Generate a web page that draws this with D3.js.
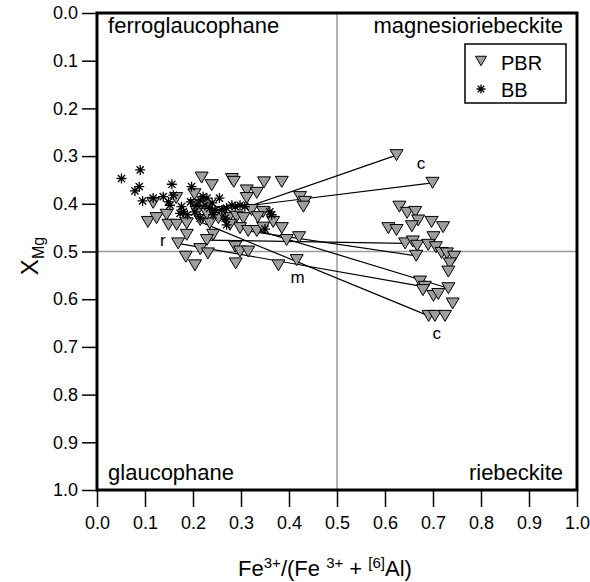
<!DOCTYPE html>
<html>
<head>
<meta charset="utf-8">
<script src="https://cdn.jsdelivr.net/npm/d3@7"></script>
<style>
  html, body { margin: 0; padding: 0; background: #fff; }
  svg { display: block; }
  text { font-family: "Liberation Sans", Arial, Helvetica, sans-serif; fill: #000; }
</style>
</head>
<body>
<svg id="chart" width="590" height="582"></svg>
<script>
// ---------- data ----------
const tickValues = [0, 0.1, 0.2, 0.3, 0.4, 0.5, 0.6, 0.7, 0.8, 0.9, 1.0];

// PBR (grey down-triangles): Fe3+/(Fe3+ + [6]Al) and XMg
const pbrX = [0.218,0.239,0.281,0.285,0.348,0.385,0.312,0.333,0.117,0.165,0.203,0.204,0.106,0.124,0.145,0.149,0.166,0.187,0.187,0.215,0.235,0.253,0.274,0.291,0.305,0.322,0.312,0.346,0.367,0.385,0.298,0.315,0.333,0.346,0.242,0.229,0.169,0.215,0.231,0.185,0.204,0.288,0.298,0.315,0.289,0.378,0.416,0.395,0.421,0.423,0.433,0.430,0.208,0.229,0.260,0.277,0.335,
  0.630,0.646,0.663,0.669,0.656,0.697,0.721,0.607,0.624,0.701,0.642,0.658,0.667,0.690,0.706,0.718,0.729,0.744,0.735,0.732,0.665,0.673,0.683,0.679,0.732,0.701,0.711,0.741,0.691,0.704,0.725,0.624,0.699];
const pbrY = [0.345,0.361,0.348,0.354,0.355,0.354,0.372,0.377,0.398,0.388,0.380,0.403,0.438,0.430,0.423,0.444,0.444,0.441,0.465,0.434,0.441,0.430,0.430,0.427,0.430,0.413,0.388,0.417,0.438,0.451,0.451,0.457,0.457,0.450,0.465,0.476,0.483,0.495,0.504,0.511,0.529,0.490,0.500,0.500,0.525,0.529,0.518,0.476,0.470,0.386,0.396,0.406,0.417,0.421,0.417,0.444,0.428,
  0.406,0.419,0.417,0.435,0.447,0.438,0.449,0.451,0.455,0.470,0.483,0.479,0.488,0.486,0.491,0.503,0.504,0.511,0.525,0.542,0.509,0.563,0.574,0.581,0.577,0.593,0.589,0.609,0.635,0.635,0.635,0.298,0.356];

// BB (asterisks)
const bbX = [0.051,0.090,0.088,0.079,0.095,0.117,0.138,0.156,0.159,0.149,0.152,0.176,0.173,0.180,0.197,0.195,0.208,0.204,0.221,0.229,0.225,0.255,0.235,0.246,0.260,0.270,0.281,0.288,0.298,0.308,0.267,0.270,0.215,0.242,0.360,0.364,0.350,0.188,0.215,0.240];
const bbY = [0.347,0.329,0.364,0.373,0.394,0.388,0.385,0.359,0.382,0.396,0.403,0.406,0.420,0.417,0.364,0.396,0.403,0.417,0.385,0.388,0.403,0.388,0.409,0.413,0.413,0.409,0.403,0.406,0.403,0.406,0.430,0.444,0.430,0.423,0.417,0.423,0.453,0.423,0.392,0.398];

// core-rim tie lines
const tieX0 = [0.323,0.323,0.229,0.315,0.252,0.169,0.215];
const tieY0 = [0.403,0.403,0.476,0.457,0.430,0.483,0.438];
const tieX1 = [0.624,0.699,0.642,0.665,0.732,0.683,0.691];
const tieY1 = [0.298,0.356,0.483,0.509,0.577,0.574,0.635];

// annotations (label centres)
const noteText = ["r","m","c","c"];
const noteX = [0.137,0.418,0.675,0.708];
const noteY = [0.476,0.553,0.315,0.670];

const quadText = ["ferroglaucophane","magnesioriebeckite","glaucophane","riebeckite"];
const quadX = [0.023,0.971,0.023,0.971];
const quadY = [0.0,0.0,1.0,1.0];

const legendNames = ["PBR","BB"];

// ---------- drawing ----------
const svg = d3.select("#chart");
const x = d3.scaleLinear().domain([0,1]).range([97,577]);
const y = d3.scaleLinear().domain([0,1]).range([13,490]);
const FONT = '"Liberation Sans", Arial, Helvetica, sans-serif';

// midlines
svg.append("line").attr("x1", x(0.5)).attr("x2", x(0.5)).attr("y1", y(0)).attr("y2", y(1))
  .attr("stroke", "#9a9a9a").attr("stroke-width", 1.5);
svg.append("line").attr("x1", x(0)).attr("x2", x(1)).attr("y1", y(0.5)).attr("y2", y(0.5))
  .attr("stroke", "#9a9a9a").attr("stroke-width", 1.5);

// axes
const fmt = d3.format(".1f");
const gx = svg.append("g").attr("transform", `translate(0,${y(1)})`)
  .call(d3.axisBottom(x).tickValues(tickValues).tickFormat(fmt).tickSize(17).tickPadding(9));
const gy = svg.append("g").attr("transform", `translate(${x(0)},0)`)
  .call(d3.axisLeft(y).tickValues(tickValues).tickFormat(fmt).tickSize(15).tickPadding(4));
[gx, gy].forEach(g => {
  g.select(".domain").remove();
  g.selectAll(".tick line").attr("stroke", "#000").attr("stroke-width", 1.5);
  g.selectAll(".tick text").attr("font-family", FONT).attr("font-size", 18).attr("fill", "#000");
});

// tie lines
svg.append("g").selectAll("line").data(tieX0).join("line")
  .attr("x1", (d,i) => x(tieX0[i])).attr("y1", (d,i) => y(tieY0[i]))
  .attr("x2", (d,i) => x(tieX1[i])).attr("y2", (d,i) => y(tieY1[i]))
  .attr("stroke", "#000").attr("stroke-width", 1.2);

// PBR triangles
function triPath(cx, cy, w, h) {
  return `M${cx - w/2},${cy - h/2}L${cx + w/2},${cy - h/2}L${cx},${cy + h/2}Z`;
}
svg.append("g").selectAll("path").data(pbrX).join("path")
  .attr("d", (d,i) => triPath(x(pbrX[i]), y(pbrY[i]), 13, 11))
  .attr("fill", "#9e9e9e").attr("stroke", "#000").attr("stroke-width", 1);

// BB asterisks
function starPath(cx, cy, r) {
  const d = r * 0.72;
  return `M${cx - r},${cy}L${cx + r},${cy}M${cx},${cy - r}L${cx},${cy + r}` +
         `M${cx - d},${cy - d}L${cx + d},${cy + d}M${cx - d},${cy + d}L${cx + d},${cy - d}`;
}
svg.append("g").selectAll("path").data(bbX).join("path")
  .attr("d", (d,i) => starPath(x(bbX[i]), y(bbY[i]), 5))
  .attr("fill", "none").attr("stroke", "#000").attr("stroke-width", 1.3);

// frame
svg.append("rect").attr("x", x(0)).attr("y", y(0)).attr("width", x(1) - x(0)).attr("height", y(1) - y(0))
  .attr("fill", "none").attr("stroke", "#000").attr("stroke-width", 3);

// quadrant labels
svg.append("g").selectAll("text").data(quadText).join("text")
  .attr("x", (d,i) => x(quadX[i]))
  .attr("y", (d,i) => quadY[i] === 0 ? y(quadY[i]) + 20 : y(quadY[i]) - 10)
  .attr("text-anchor", (d,i) => quadX[i] < 0.5 ? "start" : "end")
  .attr("font-size", 22).attr("font-family", FONT)
  .text(d => d);

// point annotations
svg.append("g").selectAll("text").data(noteText).join("text")
  .attr("x", (d,i) => x(noteX[i])).attr("y", (d,i) => y(noteY[i]))
  .attr("dy", "0.35em")
  .attr("text-anchor", "middle").attr("font-size", 17).attr("font-family", FONT)
  .text(d => d);

// legend
const lg = svg.append("g");
lg.append("rect").attr("x", 465).attr("y", 44).attr("width", 101).attr("height", 59)
  .attr("fill", "#fff").attr("stroke", "#000").attr("stroke-width", 1.5);
lg.append("path").attr("d", triPath(481, 61, 11, 9.5))
  .attr("fill", "#9e9e9e").attr("stroke", "#000").attr("stroke-width", 1);
lg.append("path").attr("d", starPath(481, 89, 4.5))
  .attr("fill", "none").attr("stroke", "#000").attr("stroke-width", 1.3);
lg.selectAll("text").data(legendNames).join("text")
  .attr("x", 501).attr("y", (d,i) => 70 + i * 27)
  .attr("font-size", 20).attr("font-family", FONT)
  .text(d => d);

// axis titles
const xt = svg.append("text").attr("x", 325).attr("y", 576).attr("text-anchor", "middle")
  .attr("font-size", 22).attr("font-family", FONT);
xt.append("tspan").text("Fe");
xt.append("tspan").attr("font-size", 15).attr("dy", -8).text("3+");
xt.append("tspan").attr("dy", 8).text("/(Fe ");
xt.append("tspan").attr("font-size", 15).attr("dy", -8).text("3+");
xt.append("tspan").attr("dy", 8).text(" + ");
xt.append("tspan").attr("font-size", 15).attr("dy", -8).text("[6]");
xt.append("tspan").attr("dy", 8).text("Al)");

const yt = svg.append("text").attr("transform", "translate(38,256) rotate(-90)")
  .attr("text-anchor", "middle").attr("font-size", 24).attr("font-family", FONT);
yt.append("tspan").text("X");
yt.append("tspan").attr("font-size", 16).attr("dy", 6).text("Mg");
</script>
</body>
</html>
